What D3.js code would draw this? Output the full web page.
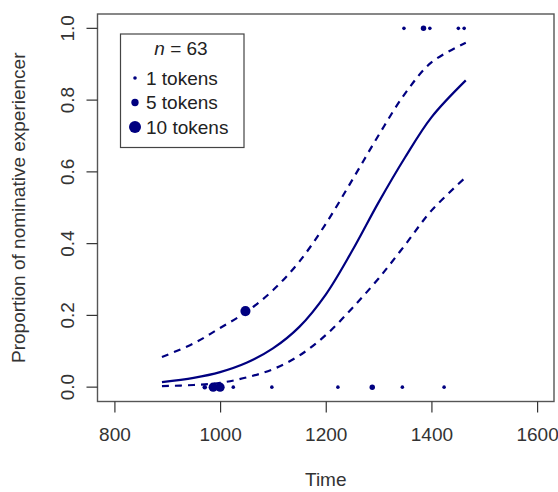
<!DOCTYPE html>
<html>
<head>
<meta charset="utf-8">
<script src="https://cdn.jsdelivr.net/npm/d3@7"></script>
<style>
  body { margin: 0; background: #fff; }
  svg { display: block; font-family: "Liberation Sans", Arial, sans-serif; }
</style>
</head>
<body>
<div id="chart"></div>
<script>
// fitted curve and confidence band
const curveTime = [890, 950, 1000, 1050, 1100, 1150, 1200, 1250, 1300, 1350, 1400, 1465];
const fitValues = [0.014, 0.026, 0.042, 0.068, 0.108, 0.168, 0.258, 0.38, 0.515, 0.64, 0.752, 0.855];
const upperValues = [0.084, 0.122, 0.165, 0.21, 0.27, 0.35, 0.455, 0.577, 0.702, 0.818, 0.905, 0.96];
const lowerValues = [0.003, 0.006, 0.012, 0.027, 0.05, 0.088, 0.145, 0.22, 0.303, 0.396, 0.492, 0.585];

// observed bins: time, proportion, tokens
const pointTime = [971, 987, 1000, 1025, 1098, 1223, 1288, 1345, 1424, 1048, 1348, 1385, 1397, 1451, 1462];
const pointProp = [0, 0, 0, 0, 0, 0, 0, 0, 0, 0.212, 1, 1, 1, 1, 1];
const pointTokens = [2, 7, 7, 1, 1, 1, 3, 1, 1, 8, 1, 3, 1, 1, 1];

const xTicks = [800, 1000, 1200, 1400, 1600];
const yTicks = [0, 0.2, 0.4, 0.6, 0.8, 1.0];
const legendTokens = [1, 5, 10];
const nTotal = 63;

const W = 558, H = 492;
const col = "#000080";
const fs = 19;

const x = d3.scaleLinear().domain([768, 1632]).range([97.5, 554]);
const y = d3.scaleLinear().domain([-0.04, 1.04]).range([401.5, 14]);
const r = d3.scaleLinear().domain([1, 10]).range([1.8, 6]);

const svg = d3.select("#chart").append("svg")
    .attr("width", W)
    .attr("height", H);

// plot box
svg.append("rect")
    .attr("x", x.range()[0]).attr("y", y.range()[1])
    .attr("width", x.range()[1] - x.range()[0])
    .attr("height", y.range()[0] - y.range()[1])
    .attr("fill", "none")
    .attr("stroke", "#555")
    .attr("stroke-width", 1.4);

// x axis
const xAxis = svg.append("g")
    .attr("transform", `translate(0,${y.range()[0]})`)
    .call(d3.axisBottom(x).tickValues(xTicks).tickSize(11).tickPadding(15).tickFormat(d3.format("d")));
xAxis.select(".domain").remove();
xAxis.selectAll("line").attr("stroke", "#333").attr("stroke-width", 1.2);
xAxis.selectAll("text").attr("font-size", fs).attr("fill", "#333").attr("font-family", "Liberation Sans, Arial, sans-serif");

// y axis, labels rotated like R
const yAxis = svg.append("g")
    .attr("transform", `translate(${x.range()[0]},0)`)
    .call(d3.axisLeft(y).tickValues(yTicks).tickSize(11).tickFormat(d3.format(".1f")));
yAxis.select(".domain").remove();
yAxis.selectAll(".tick").attr("transform", null);
yAxis.selectAll(".tick line")
    .attr("stroke", "#333").attr("stroke-width", 1.2)
    .attr("y1", d => y(d)).attr("y2", d => y(d));
yAxis.selectAll(".tick text")
    .attr("font-size", fs).attr("fill", "#333")
    .attr("font-family", "Liberation Sans, Arial, sans-serif")
    .attr("x", null).attr("dy", null).attr("y", 0)
    .attr("text-anchor", "middle")
    .attr("dominant-baseline", "central")
    .attr("transform", d => `translate(-30,${y(d)}) rotate(-90)`);

svg.append("text")
    .attr("x", (x.range()[0] + x.range()[1]) / 2)
    .attr("y", 486)
    .attr("text-anchor", "middle")
    .attr("font-size", fs).attr("fill", "#333")
    .text("Time");

svg.append("text")
    .attr("transform", `translate(25,${(y.range()[0] + y.range()[1]) / 2}) rotate(-90)`)
    .attr("text-anchor", "middle")
    .attr("font-size", fs).attr("fill", "#333")
    .text("Proportion of nominative experiencer");

// curves
const line = d3.line()
    .x(d => x(d[0]))
    .y(d => y(d[1]))
    .curve(d3.curveCatmullRom.alpha(0.5));

const series = [
  { values: fitValues, dash: null },
  { values: upperValues, dash: "7,6" },
  { values: lowerValues, dash: "7,6" }
];

svg.append("g").selectAll("path")
  .data(series)
  .join("path")
    .attr("d", s => line(curveTime.map((t, i) => [t, s.values[i]])))
    .attr("fill", "none")
    .attr("stroke", col)
    .attr("stroke-width", 2.2)
    .attr("stroke-dasharray", s => s.dash);

// points
svg.append("g").selectAll("circle")
  .data(pointTime.map((t, i) => ({ t, p: pointProp[i], n: pointTokens[i] })))
  .join("circle")
    .attr("cx", d => x(d.t))
    .attr("cy", d => y(d.p))
    .attr("r", d => r(d.n))
    .attr("fill", col);

// legend
const lg = svg.append("g");
lg.append("rect")
    .attr("x", 120.5).attr("y", 34)
    .attr("width", 123.5).attr("height", 113.5)
    .attr("fill", "#fff")
    .attr("stroke", "#444")
    .attr("stroke-width", 1.2);

const title = lg.append("text")
    .attr("x", 181).attr("y", 55)
    .attr("text-anchor", "middle")
    .attr("font-size", fs).attr("fill", "#222");
title.append("tspan").attr("font-style", "italic").text("n");
title.append("tspan").text(" =  " + nTotal);

const rows = lg.selectAll("g.row")
  .data(legendTokens)
  .join("g")
    .attr("class", "row")
    .attr("transform", (d, i) => `translate(0,${78 + i * 24.5})`);

rows.append("circle")
    .attr("cx", 135)
    .attr("cy", 0)
    .attr("r", d => r(d))
    .attr("fill", col);

rows.append("text")
    .attr("x", 146)
    .attr("y", 0)
    .attr("dy", "0.36em")
    .attr("font-size", fs).attr("fill", "#222")
    .text(d => d + " tokens");
</script>
</body>
</html>
